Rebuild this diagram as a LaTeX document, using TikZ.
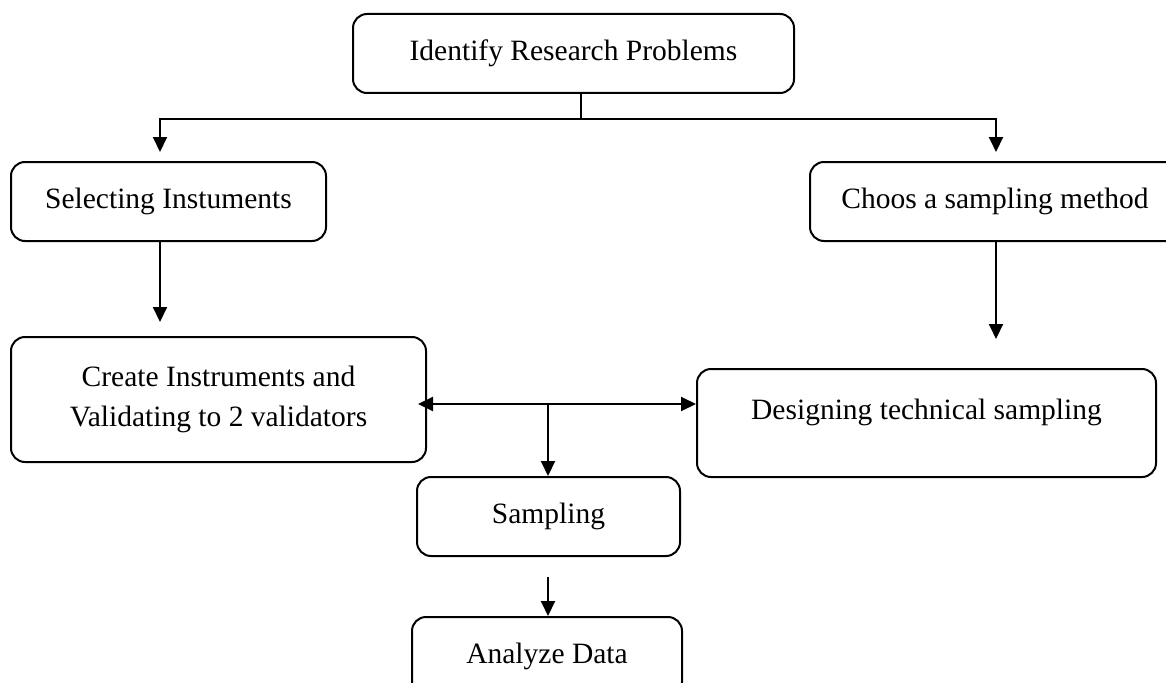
\documentclass[tikz,border=0pt]{standalone}
\usepackage{fontspec}
\setmainfont{Liberation Serif}
\usetikzlibrary{arrows.meta,calc}
\newcommand\boxfont{\fontsize{29.5}{40}\selectfont}
\begin{document}
\begin{tikzpicture}[x=1pt,y=-1pt,
  box/.style={draw, line width=2pt, rounded corners=14pt, align=center, font=\boxfont, inner sep=0pt},
  link/.style={line width=2pt},
  arr/.style={line width=2pt, -{Triangle[length=15pt,width=14pt]}},
  darr/.style={line width=2pt, {Triangle[length=15pt,width=14pt]}-{Triangle[length=15pt,width=14pt]}}]
\useasboundingbox (0,0) rectangle (1166,682);
\clip (0,0) rectangle (1166,682);
% boxes
\node[box, minimum width=441pt, minimum height=79pt] (top) at (573.5,53.5) {Identify Research Problems};
\node[box, minimum width=315pt, minimum height=79pt] (sel) at (168.5,201.5) {Selecting Instuments};
\node[box, minimum width=370pt, minimum height=79pt] (cho) at (995,201.5) {Choos a sampling method};
\node[box, minimum width=415pt, minimum height=125pt] (cre) at (218.5,399.5) {Create Instruments and\\Validating to 2 validators};
\node[box, minimum width=459pt, minimum height=108pt, text height=20pt, text depth=27pt] (des) at (926.5,423) {Designing technical sampling};
\node[box, minimum width=263pt, minimum height=79pt] (samp) at (548.5,516.5) {Sampling};
\node[box, minimum width=270pt, minimum height=79pt] (ana) at (547,656.5) {Analyze Data};
% coordinates
\coordinate (j) at (581,119);
\coordinate (a1) at (160,152);
\coordinate (a2) at (996,152);
\coordinate (b1) at (160,322);
\coordinate (b2) at (996,339);
\coordinate (c1) at (418,404);
\coordinate (c2) at (548,404);
\coordinate (d1) at (548,577);
% connectors
\draw[link] (top.south -| j) -- (j);
\draw[arr] (j) -| (a1);
\draw[arr] (j) -| (a2);
\draw[arr] (sel.south -| b1) -- (b1);
\draw[arr] (cho.south -| b2) -- (b2);
\draw[darr] (c1) -- (c1 -| des.west);
\draw[arr] (c2) -- (c2 |- samp.north);
\draw[arr] (d1) -- (d1 |- ana.north);
\end{tikzpicture}
\end{document}
